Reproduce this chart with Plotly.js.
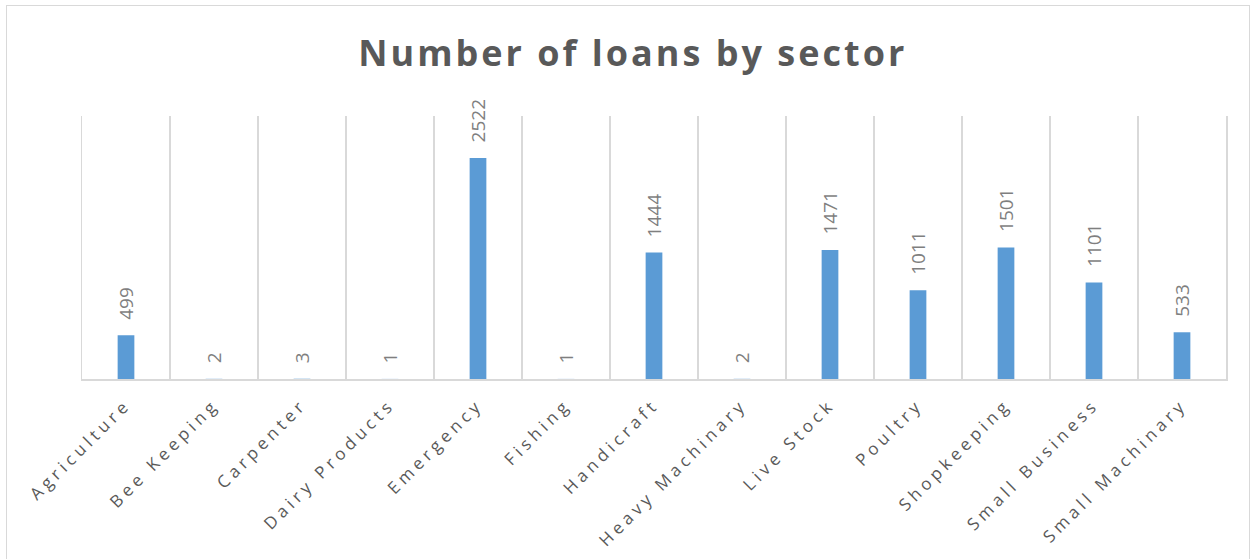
<!DOCTYPE html>
<html><head><meta charset="utf-8">
<script src="https://cdn.plot.ly/plotly-3.0.1.min.js"></script>
<style>
html,body{margin:0;padding:0;background:#fff;}
#wrap{position:relative;width:1253px;height:559px;overflow:hidden;background:#fff;}
#frame{position:absolute;left:6px;top:5px;width:1242px;height:600px;border:1.5px solid #d9d9d9;pointer-events:none;z-index:2;}
#chart{position:absolute;left:0;top:0;width:1253px;height:559px;}
.gtitle{letter-spacing:3px;}
.xtick text{letter-spacing:4.3px;}
</style></head>
<body>
<div id="wrap"><div id="chart"></div><div id="frame"></div></div>
<script>
const sectors = ["Agriculture","Bee Keeping","Carpenter","Dairy Products","Emergency","Fishing","Handicraft","Heavy Machinary","Live Stock","Poultry","Shopkeeping","Small Business","Small Machinary"];
const loans = [499,2,3,1,2522,1,1444,2,1471,1011,1501,1101,533];
const titleText = "Number of loans by sector";

const labelFont = {family:"Open Sans", size:19, color:"#7f7f7f"};
const annotations = sectors.map((s,i)=>({
  x:s, y:loans[i], xref:"x", yref:"y", text:String(loans[i]),
  showarrow:false, textangle:-90, xanchor:"center", yanchor:"bottom",
  yshift:13, font:labelFont
}));

const data = [{
  type:"bar", x:sectors, y:loans,
  marker:{color:"#5B9BD5"},
  hoverinfo:"x+y"
}];

const layout = {
  width:1253, height:559,
  margin:{l:82, r:27, t:116, b:180, pad:0},
  paper_bgcolor:"rgba(0,0,0,0)", plot_bgcolor:"rgba(0,0,0,0)",
  bargap:0.81,
  showlegend:false,
  title:{text:titleText, xref:"container", x:0.505, xanchor:"center", yref:"container", y:0.905, yanchor:"middle",
    font:{family:"Open Sans", size:36, color:"#595959", weight:700}},
  xaxis:{type:"category", range:[-0.5,12.5], tickson:"boundaries", showgrid:true, gridcolor:"#d9d9d9", gridwidth:1.5,
    showline:true, linecolor:"#d9d9d9", linewidth:2, ticks:"", tickangle:-45, automargin:false, ticklabelstandoff:7,
    tickfont:{family:"Open Sans", size:17, color:"#595959"}, fixedrange:true},
  yaxis:{range:[0,3000], showgrid:false, showticklabels:false, zeroline:false, showline:true, mirror:true,
    linecolor:"#d9d9d9", linewidth:1.5, ticks:"", fixedrange:true},
  annotations:annotations
};

Plotly.newPlot("chart", data, layout, {displayModeBar:false, staticPlot:true});
</script>
</body></html>
